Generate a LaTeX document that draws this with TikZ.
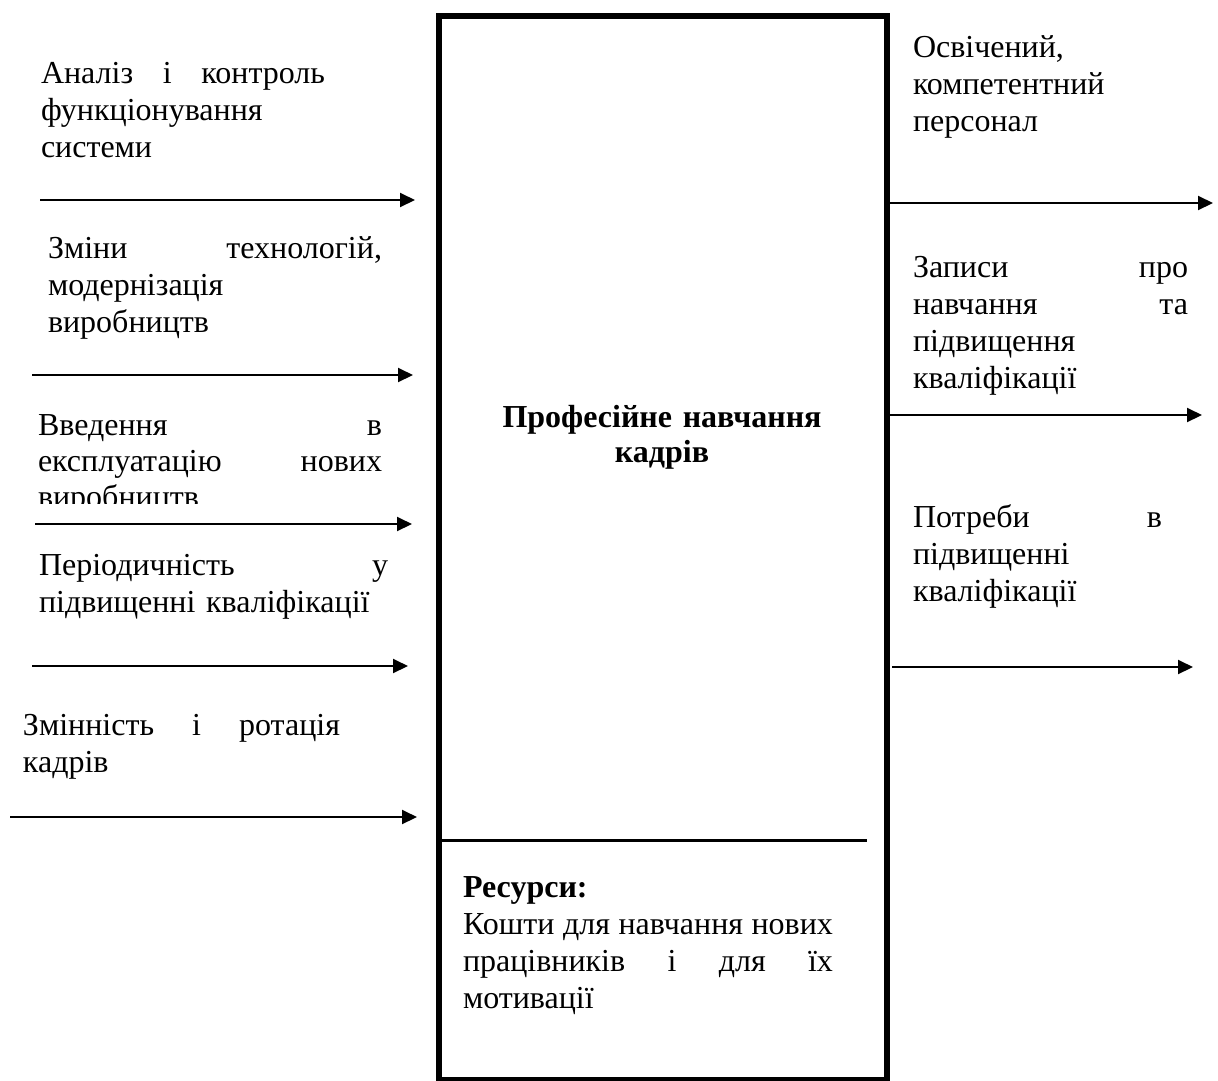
\documentclass[tikz,border=0pt]{standalone}
\usepackage{fontspec}
\setmainfont{Liberation Serif}
\usetikzlibrary{arrows.meta}

% one justified line of a given width: the \hfill gaps spread the words over it
\newcommand\jl[2]{\makebox[#1]{#2}}

\tikzset{
  label text/.style={anchor=base west, inner sep=0pt, outer sep=0pt, align=left,
    font=\fontsize{32}{37}\selectfont},
  flow/.style={line width=2pt, -{Triangle[length=15pt,width=14pt]}},
  process/.style={draw, line width=5.5pt, inner sep=0pt, anchor=north west}
}

\begin{document}
\begin{tikzpicture}[x=1pt, y=-1pt]
\useasboundingbox (0,0) rectangle (1218,1080);

% main process block and the resources divider
\node[process, minimum width=448pt, minimum height=1064pt] (box) at (436,13) {};
\draw[line width=3pt] (box.west |- 0,840.5) coordinate (dl) -- (867,840.5) coordinate (dr);

\node[anchor=base, inner sep=0pt, align=center, text width=400pt,
      font=\fontsize{32}{35}\selectfont\bfseries] (title) at (662,427)
  {Професійне навчання\\кадрів};

\node[label text, text width=370pt] (res) at (463,897)
  {\textbf{Ресурси:}\\
   \jl{370pt}{Кошти\hfill для\hfill навчання\hfill нових}\\
   \jl{370pt}{працівників\hfill і\hfill для\hfill їх}\\
   мотивації};

% inputs on the left
\node[label text, text width=284pt] (in1) at (41,83)
  {\jl{284pt}{Аналіз\hfill і\hfill контроль}\\функціонування\\системи};
\node[label text, text width=334pt] (in2) at (48,258)
  {\jl{334pt}{Зміни\hfill технологій,}\\модернізація\\виробництв};
\begin{scope}
  \clip (0,380) rectangle (430,503);
  \node[label text, text width=344pt, font=\fontsize{32}{36}\selectfont] (in3) at (38,435)
    {\jl{344pt}{Введення\hfill в}\\\jl{344pt}{експлуатацію\hfill нових}\\виробництв};
\end{scope}
\node[label text, text width=349pt] (in4) at (39,575)
  {\jl{349pt}{Періодичність\hfill у}\\підвищенні кваліфікації};
\node[label text, text width=317pt] (in5) at (23,735)
  {\jl{317pt}{Змінність\hfill і\hfill ротація}\\кадрів};

\coordinate (a1s) at (40,200);  \coordinate (a1e) at (415,200);
\coordinate (a2s) at (32,375);  \coordinate (a2e) at (413,375);
\coordinate (a3s) at (35,524);  \coordinate (a3e) at (412,524);
\coordinate (a4s) at (32,666);  \coordinate (a4e) at (408,666);
\coordinate (a5s) at (10,817);  \coordinate (a5e) at (417,817);
\draw[flow] (a1s) -- (a1e);
\draw[flow] (a2s) -- (a2e);
\draw[flow] (a3s) -- (a3e);
\draw[flow] (a4s) -- (a4e);
\draw[flow] (a5s) -- (a5e);

% outputs on the right
\node[label text, text width=290pt] (out1) at (913,57)
  {Освічений,\\компетентний\\персонал};
\node[label text, text width=275pt] (out2) at (913,277)
  {\jl{275pt}{Записи\hfill про}\\\jl{275pt}{навчання\hfill та}\\підвищення\\кваліфікації};
\node[label text, text width=249pt] (out3) at (913,527)
  {\jl{249pt}{Потреби\hfill в}\\підвищенні\\кваліфікації};

\coordinate (b1s) at (884,203);  \coordinate (b1e) at (1213,203);
\coordinate (b2s) at (884,415);  \coordinate (b2e) at (1202,415);
\coordinate (b3s) at (892,667);  \coordinate (b3e) at (1193,667);
\draw[flow] (b1s) -- (b1e);
\draw[flow] (b2s) -- (b2e);
\draw[flow] (b3s) -- (b3e);
\end{tikzpicture}
\end{document}
